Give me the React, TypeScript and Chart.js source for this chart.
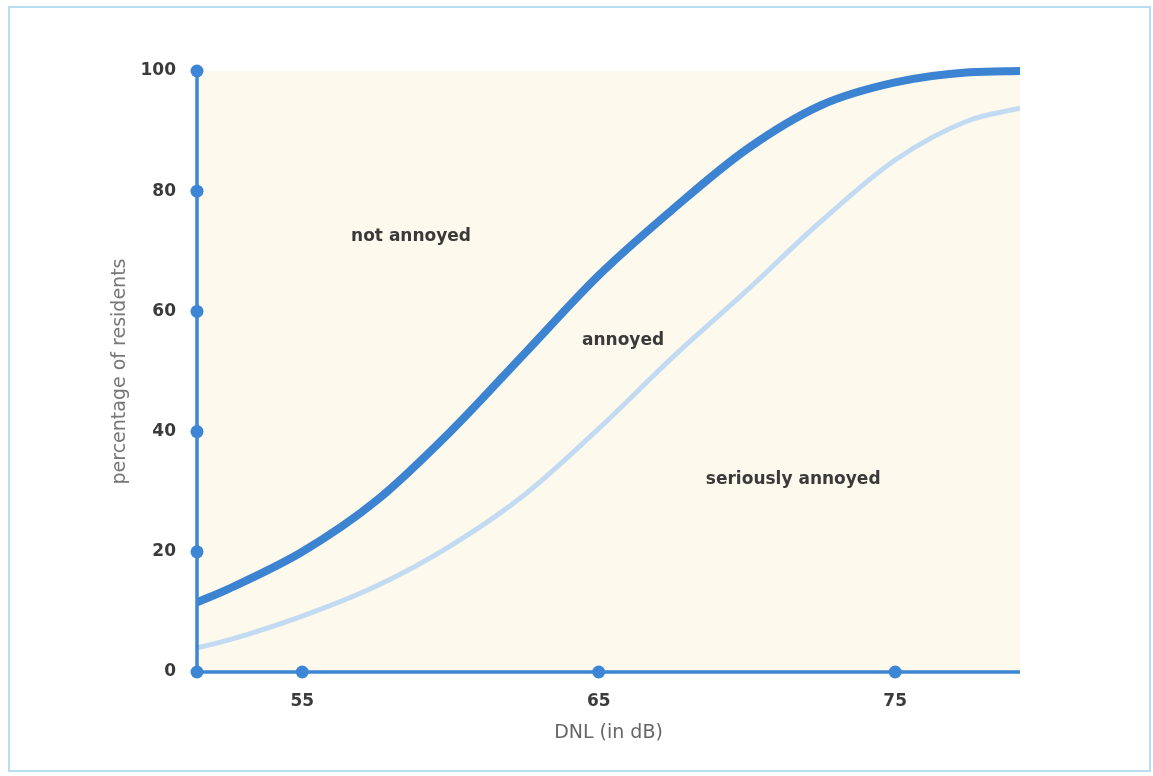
import React, { useEffect, useRef } from "react";
import { Chart, registerables } from "chart.js";

Chart.register(...registerables);

// ---- data ----
const dnl = [51.45, 52.5, 55, 57.5, 60, 62.5, 65, 67.5, 70, 72.5, 75, 77.5, 79.21];
const annoyedPct = [11.6, 13.8, 20, 28.5, 40, 53, 66, 77, 87, 94.3, 98.1, 99.8, 100];
const seriouslyAnnoyedPct = [4, 5.3, 9.3, 14.3, 21, 29.5, 40.5, 52.4, 63.5, 75, 85.2, 91.8, 93.8];
const xTicks = [55, 65, 75];
const yTicks = [0, 20, 40, 60, 80, 100];
const regionLabels = ["not annoyed", "annoyed", "seriously annoyed"];
const regionLabelDnl = [58.67, 65.82, 71.56];
const regionLabelPct = [72.5, 55.2, 32.1];
const X_MIN = 51.45;
const X_MAX = 79.21;

const AXIS_BLUE = "#3d86d6";
const FONT = "'DejaVu Sans', 'Liberation Sans', Arial, sans-serif";

const decorPlugin = {
  id: "decor",
  beforeDraw(chart: any) {
    const { ctx, chartArea: a } = chart;
    ctx.save();
    ctx.fillStyle = "#ffffff";
    ctx.fillRect(0, 0, chart.width, chart.height);
    ctx.strokeStyle = "#b9ddf2";
    ctx.lineWidth = 2;
    ctx.strokeRect(9, 7, 1141, 764);
    ctx.fillStyle = "#fdf9ec";
    ctx.fillRect(a.left, a.top, a.right - a.left, a.bottom - a.top);
    ctx.restore();
  },
  afterDatasetsDraw(chart: any) {
    const { ctx, chartArea: a } = chart;
    const x = chart.scales.x;
    const y = chart.scales.y;
    ctx.save();
    // region labels
    ctx.font = `bold 17px ${FONT}`;
    ctx.fillStyle = "#3a3a3a";
    ctx.textAlign = "center";
    ctx.textBaseline = "middle";
    regionLabels.forEach((t, i) => {
      ctx.fillText(t, x.getPixelForValue(regionLabelDnl[i]), y.getPixelForValue(regionLabelPct[i]));
    });
    // axes
    ctx.strokeStyle = AXIS_BLUE;
    ctx.lineWidth = 3.5;
    ctx.beginPath();
    ctx.moveTo(a.left, a.top);
    ctx.lineTo(a.left, a.bottom);
    ctx.lineTo(a.right, a.bottom);
    ctx.stroke();
    ctx.fillStyle = AXIS_BLUE;
    const dot = (px: number, py: number) => {
      ctx.beginPath();
      ctx.arc(px, py, 6.5, 0, Math.PI * 2);
      ctx.fill();
    };
    yTicks.forEach((v) => dot(a.left, y.getPixelForValue(v)));
    xTicks.forEach((v) => dot(x.getPixelForValue(v), a.bottom));
    ctx.restore();
  },
};

export default function App() {
  const canvasRef = useRef<HTMLCanvasElement | null>(null);

  useEffect(() => {
    const canvas = canvasRef.current;
    if (!canvas) return;
    const clip = { left: 0, right: 0, top: 10, bottom: 10 };
    const chart = new Chart(canvas, {
      type: "line",
      data: {
        datasets: [
          {
            label: "annoyed",
            data: dnl.map((v, i) => ({ x: v, y: annoyedPct[i] })),
            borderColor: "#3c84d2",
            borderWidth: 8,
            pointRadius: 0,
            fill: false,
            cubicInterpolationMode: "monotone",
            clip: clip as any,
          },
          {
            label: "seriously annoyed",
            data: dnl.map((v, i) => ({ x: v, y: seriouslyAnnoyedPct[i] })),
            borderColor: "#c2dbf3",
            borderWidth: 5,
            pointRadius: 0,
            fill: false,
            cubicInterpolationMode: "monotone",
            clip: clip as any,
          },
        ],
      },
      options: {
        responsive: false,
        animation: false,
        layout: { padding: { top: 71, right: 133, bottom: 0, left: 0 } },
        plugins: { legend: { display: false }, tooltip: { enabled: false } },
        scales: {
          x: {
            type: "linear",
            min: X_MIN,
            max: X_MAX,
            grid: { display: false },
            border: { display: false },
            afterBuildTicks: (s: any) => {
              s.ticks = xTicks.map((v) => ({ value: v }));
            },
            afterFit: (s: any) => {
              s.height = 104;
            },
            ticks: {
              padding: 11,
              color: "#3b3b3b",
              font: { family: FONT, size: 17, weight: "bold" },
              callback: (v: any) => String(v),
            },
            title: {
              display: true,
              text: "DNL (in dB)",
              color: "#666666",
              font: { family: FONT, size: 19 },
              padding: { top: 0, bottom: 31.6 },
            },
          },
          y: {
            type: "linear",
            min: 0,
            max: 100,
            grid: { display: false },
            border: { display: false },
            afterBuildTicks: (s: any) => {
              s.ticks = yTicks.map((v) => ({ value: v }));
            },
            afterFit: (s: any) => {
              s.width = 197;
            },
            ticks: {
              padding: 13,
              color: "#3b3b3b",
              font: { family: FONT, size: 17, weight: "bold" },
              callback: (v: any) => String(v),
            },
            title: {
              display: true,
              text: "percentage of residents",
              color: "#777777",
              font: { family: FONT, size: 19 },
              padding: { top: 108.6, bottom: 0 },
            },
          },
        },
      },
      plugins: [decorPlugin],
    });
    return () => chart.destroy();
  }, []);

  return (
    <div style={{ position: "fixed", left: 0, top: 0, width: 1153, height: 776, background: "#fff" }}>
      <canvas ref={canvasRef} width={1153} height={776} style={{ width: 1153, height: 776, display: "block" }} />
    </div>
  );
}
